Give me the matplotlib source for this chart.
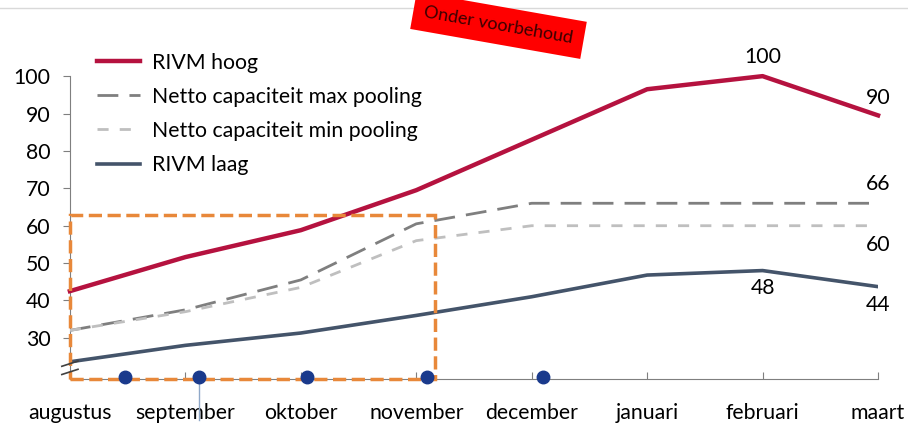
import matplotlib
matplotlib.use("Agg")
import matplotlib.pyplot as plt
import numpy as np
from matplotlib.patches import Rectangle
from matplotlib.lines import Line2D

plt.rcParams["font.family"] = ["Lato", "DejaVu Sans"]

months = ["augustus", "september", "oktober", "november", "december",
          "januari", "februari", "maart"]
rivm_hoog = [42.5, 51.6, 58.8, 69.5, 83, 96.5, 100, 89.5]
max_pooling = [32, 37.5, 45.5, 60.5, 66, 66, 66, 66]
min_pooling = [32, 37, 43.5, 56, 60, 60, 60, 60]
rivm_laag = [23.6, 28, 31.3, 36, 41, 46.8, 48, 43.7]
yticks = [30, 40, 50, 60, 70, 80, 90, 100]
dot_pos = [0.48, 1.12, 2.05, 3.09, 4.1]

FS = 15.3

fig = plt.figure(figsize=(9.08, 4.23), dpi=100)
ax = fig.add_axes([0.077, 0.104, 0.89, 0.716])
x = np.arange(len(months))

ax.plot(x, rivm_hoog, color="#b5123f", lw=3.2, label="RIVM hoog", clip_on=False, zorder=4)
ax.plot(x, max_pooling, color="#7f7f7f", lw=2, ls=(0, (7.5, 4)), label="Netto capaciteit max pooling", zorder=3)
ax.plot(x, min_pooling, color="#bfbfbf", lw=2, ls=(0, (4, 4)), label="Netto capaciteit min pooling", zorder=3)
ax.plot(x, rivm_laag, color="#44546a", lw=2.6, label="RIVM laag", zorder=3)

# data labels
ax.text(6, 102.5, "100", ha="center", va="bottom", fontsize=FS)
ax.text(7, 91.5, "90", ha="center", va="bottom", fontsize=FS)
ax.text(7, 68.5, "66", ha="center", va="bottom", fontsize=FS)
ax.text(7, 57.5, "60", ha="center", va="top", fontsize=FS)
ax.text(6, 46, "48", ha="center", va="top", fontsize=FS)
ax.text(7, 41.5, "44", ha="center", va="top", fontsize=FS)

ax.set_xlim(0, 7)
ax.set_ylim(19, 100)
ax.set_xticks(x)
ax.set_xticklabels(months, fontsize=FS)
ax.set_yticks(yticks)
ax.tick_params(axis="y", labelsize=FS, direction="out", length=5, pad=9,
               color="#7f7f7f")
ax.tick_params(axis="x", direction="in", length=5, color="#7f7f7f", pad=17)
for s in ("top", "right"):
    ax.spines[s].set_visible(False)
ax.spines["left"].set_color("#7f7f7f")
ax.spines["bottom"].set_color("#7f7f7f")

# axis break marks
for dy in (0, 2.2):
    ax.add_line(Line2D([-0.07, 0.07], [20.2 + dy, 21.6 + dy], color="#404040",
                       lw=1.2, clip_on=False, zorder=6))

# orange dashed highlight box
ax.add_patch(Rectangle((0, 19), 3.16, 43.9, fill=False, ec="#e8883a", lw=2.5,
                       ls=(0, (3.8, 1.6)), clip_on=False, zorder=5))

# blue markers on the axis
ax.plot(dot_pos, [19.6] * len(dot_pos), "o", color="#1a3a8c", ms=9,
        clip_on=False, zorder=7)
ax.add_line(Line2D([1.12, 1.12], [19, 8], color="#8fa8c8", lw=1,
                   clip_on=False, zorder=2))

leg = ax.legend(loc="upper left", bbox_to_anchor=(0.01, 1.14), frameon=False,
                fontsize=FS, handlelength=2.0, handletextpad=0.6,
                labelspacing=0.66)

# top rule and red stamp
fig.add_artist(Line2D([0, 1], [0.981, 0.981], color="#d9d9d9", lw=1))
fig.text(0.549, 0.94, "Onder voorbehoud", rotation=-10, ha="center", va="center",
         fontsize=13, color="#3a0000",
         bbox=dict(boxstyle="square,pad=0.6", fc="#ff0000", ec="none"))

fig.savefig("out.png", dpi=100)
